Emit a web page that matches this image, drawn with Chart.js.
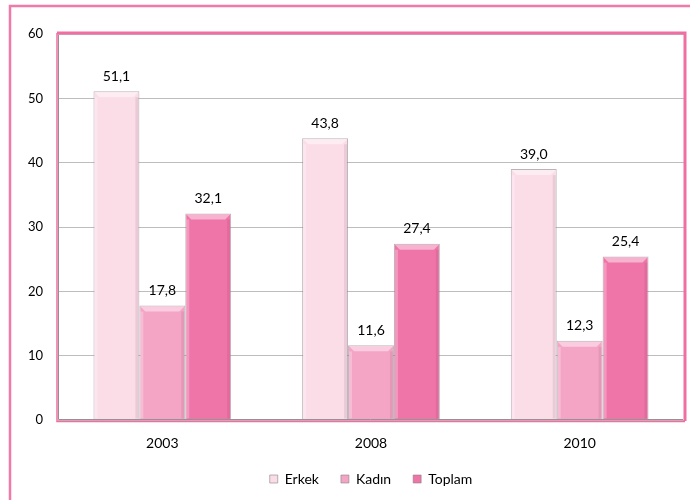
<!DOCTYPE html>
<html>
<head>
<meta charset="utf-8">
<script src="https://cdn.jsdelivr.net/npm/chart.js@4.4.1/dist/chart.umd.min.js"></script>
<style>
  html, body { margin: 0; padding: 0; background: #fff; }
  #wrap { width: 690px; height: 500px; position: relative; }
</style>
</head>
<body>
<div id="wrap"><canvas id="rateChart"></canvas></div>
<script>
const years = ["2003", "2008", "2010"];
const erkek = [51.1, 43.8, 39.0];
const kadin = [17.8, 11.6, 12.3];
const toplam = [32.1, 27.4, 25.4];
const yTicks = [0, 10, 20, 30, 40, 50, 60];

const pink = "#ef6fa3";

// outer frame + plot frame
const framePlugin = {
    id: "frame",
    beforeDraw(chart) {
        const ctx = chart.ctx;
        ctx.save();
        ctx.strokeStyle = "#f07aa9";
        ctx.lineWidth = 2.5;
        ctx.beginPath();
        ctx.moveTo(10, 500);
        ctx.lineTo(10, 6);
        ctx.lineTo(690, 6);
        ctx.stroke();
        ctx.restore();
    },
    afterDraw(chart) {
        const a = chart.chartArea;
        const ctx = chart.ctx;
        ctx.save();
        // top + right: thick pink
        ctx.lineWidth = 3;
        ctx.strokeStyle = pink;
        ctx.beginPath();
        ctx.moveTo(a.left - 1, a.top - 1);
        ctx.lineTo(a.right + 1, a.top - 1);
        ctx.lineTo(a.right + 1, a.bottom + 1);
        ctx.stroke();
        // left + bottom: thin pink outside, grey inside
        ctx.lineWidth = 1.5;
        ctx.beginPath();
        ctx.moveTo(a.left - 1, a.top - 1);
        ctx.lineTo(a.left - 1, a.bottom + 1.5);
        ctx.lineTo(a.right + 1, a.bottom + 1.5);
        ctx.stroke();
        ctx.lineWidth = 1;
        ctx.strokeStyle = "#9a8f93";
        ctx.beginPath();
        ctx.moveTo(a.left + 0.5, a.top + 1);
        ctx.lineTo(a.left + 0.5, a.bottom - 0.5);
        ctx.lineTo(a.right - 1, a.bottom - 0.5);
        ctx.stroke();
        ctx.restore();
    }
};

// bevel look on bars + value labels above them
const barDecor = {
    id: "barDecor",
    afterDatasetsDraw(chart) {
        const ctx = chart.ctx;
        ctx.save();
        chart.data.datasets.forEach((ds, i) => {
            chart.getDatasetMeta(i).data.forEach((bar) => {
                const l = bar.x - bar.width / 2, r = bar.x + bar.width / 2;
                const t = bar.y, b = bar.base;
                const bv = 6;
                ctx.fillStyle = "rgba(255,255,255,0.45)";
                ctx.beginPath();
                ctx.moveTo(l + 1, t + 1);
                ctx.lineTo(r - 1, t + 1);
                ctx.lineTo(r - bv, t + bv);
                ctx.lineTo(l + bv, t + bv);
                ctx.closePath();
                ctx.fill();
                ctx.fillStyle = "rgba(255,255,255,0.25)";
                ctx.fillRect(l + 1, t + bv, 3, b - t - bv - 1);
                ctx.fillStyle = "rgba(90,40,60,0.10)";
                ctx.fillRect(r - 4, t + bv, 3, b - t - bv - 1);
            });
        });

        ctx.font = "14px Lato";
        ctx.fillStyle = "#000";
        ctx.textAlign = "center";
        ctx.textBaseline = "middle";
        chart.data.datasets.forEach((ds, i) => {
            chart.getDatasetMeta(i).data.forEach((bar, j) => {
                const txt = ds.data[j].toFixed(1).replace(".", ",");
                ctx.fillText(txt, bar.x, bar.y - 15);
            });
        });
        ctx.restore();
    }
};

let ctx = document.getElementById("rateChart").getContext("2d");
let rateChart = new Chart(ctx, {
    type: "bar",
    data: {
        labels: years,
        datasets: [
            {
                label: "Erkek",
                data: erkek,
                backgroundColor: "#fbdde8",
                borderColor: "rgba(140,130,135,0.6)",
                borderWidth: 1,
            },
            {
                label: "Kadın",
                data: kadin,
                backgroundColor: "#f4a4c5",
                borderColor: "rgba(140,130,135,0.6)",
                borderWidth: 1,
            },
            {
                label: "Toplam",
                data: toplam,
                backgroundColor: "#ef74a7",
                borderColor: "rgba(140,130,135,0.6)",
                borderWidth: 1,
            },
        ],
    },
    options: {
        responsive: true,
        maintainAspectRatio: false,
        animation: false,
        layout: {
            padding: { top: 34, right: 6, left: 0, bottom: 4 },
        },
        datasets: {
            bar: {
                barPercentage: 1,
                categoryPercentage: 0.66,
            },
        },
        scales: {
            x: {
                grid: { display: false, drawTicks: false },
                border: { display: false },
                ticks: {
                    color: "#000",
                    font: { family: "Lato", size: 14 },
                    padding: 15,
                },
                afterFit(scale) { scale.height = 30; },
            },
            y: {
                min: 0,
                max: 60,
                grid: { color: "#bdbdbd", drawTicks: false },
                border: { display: false },
                afterBuildTicks(scale) {
                    scale.ticks = yTicks.map(v => ({ value: v }));
                },
                ticks: {
                    color: "#000",
                    font: { family: "Lato", size: 13 },
                    padding: 15,
                },
                afterFit(scale) { scale.width = 58; },
            },
        },
        plugins: {
            legend: {
                position: "bottom",
                fullSize: false,
                labels: {
                    color: "#000",
                    font: { family: "Lato", size: 14 },
                    boxWidth: 8,
                    boxHeight: 8,
                    padding: 22,
                },
            },
            tooltip: { enabled: false },
        },
    },
    plugins: [framePlugin, barDecor],
});
</script>
</body>
</html>
